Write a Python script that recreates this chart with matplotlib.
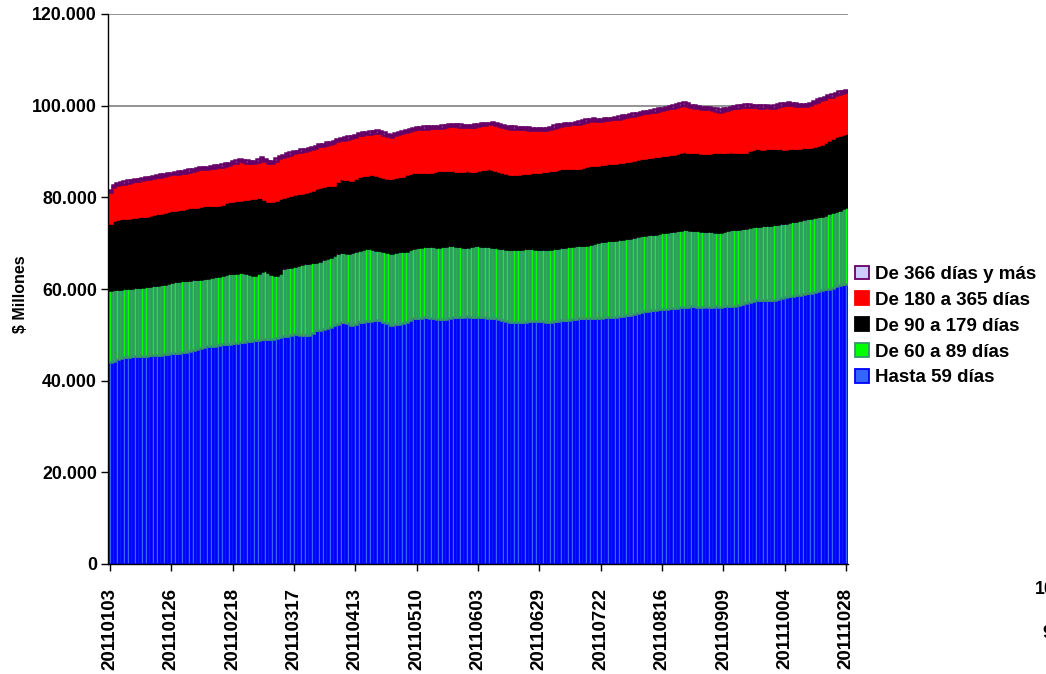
import matplotlib
matplotlib.use("Agg")
import matplotlib.pyplot as plt
import numpy as np
from matplotlib.patches import Patch
from matplotlib.ticker import FuncFormatter

plt.rcParams["font.family"] = ["Liberation Sans", "DejaVu Sans"]
plt.rcParams["font.weight"] = "bold"

# Tick labels (one every 17 days)
tick_labels = [
    "20110103", "20110126", "20110218", "20110317", "20110413", "20110510",
    "20110603", "20110629", "20110722", "20110816", "20110909", "20111004",
    "20111028",
]
tick_step = 17

# Stack levels, in thousands of $ millions
# (top of each band, one value per day)
top_hasta59 = [
    44.1, 44.4, 44.7, 45.0, 45.2, 45.2, 45.3, 45.3, 45.4, 45.3,
    45.4, 45.5, 45.6, 45.6, 45.7, 45.8, 45.8, 46.0, 46.1, 46.1,
    46.2, 46.3, 46.5, 46.8, 47.0, 47.2, 47.4, 47.5, 47.5, 47.6,
    47.7, 47.9, 48.0, 48.1, 48.2, 48.3, 48.4, 48.5, 48.6, 48.7,
    48.8, 48.9, 49.0, 49.1, 49.1, 49.2, 49.4, 49.6, 49.7, 49.8,
    50.0, 50.2, 50.1, 50.0, 49.9, 50.0, 50.5, 51.0, 51.1, 51.3,
    51.4, 51.8, 52.1, 52.4, 52.7, 52.9, 52.5, 52.2, 52.4, 52.7,
    52.9, 53.0, 53.1, 53.2, 53.2, 53.2, 52.9, 52.5, 52.2, 52.3,
    52.4, 52.5, 52.9, 53.3, 53.6, 53.7, 53.7, 53.8, 53.8, 53.7,
    53.6, 53.5, 53.4, 53.5, 53.6, 53.8, 53.9, 54.0, 54.0, 54.1,
    54.0, 54.0, 53.9, 53.9, 53.8, 53.7, 53.7, 53.6, 53.4, 53.2,
    53.0, 52.9, 52.8, 52.7, 52.8, 52.9, 53.0, 53.1, 53.1, 53.0,
    53.0, 52.9, 52.9, 53.0, 53.1, 53.2, 53.2, 53.3, 53.4, 53.5,
    53.6, 53.6, 53.6, 53.6, 53.6, 53.6, 53.7, 53.8, 53.9, 54.0,
    54.0, 54.1, 54.2, 54.3, 54.3, 54.5, 54.7, 54.9, 55.1, 55.3,
    55.4, 55.5, 55.6, 55.6, 55.7, 55.8, 55.8, 55.9, 56.0, 56.1,
    56.1, 56.2, 56.2, 56.1, 56.1, 56.2, 56.1, 56.1, 56.2, 56.1,
    56.2, 56.3, 56.4, 56.4, 56.5, 56.8, 57.0, 57.2, 57.4, 57.6,
    57.6, 57.6, 57.7, 57.6, 57.6, 57.8, 58.0, 58.2, 58.5, 58.5,
    58.6, 58.8, 59.0, 59.1, 59.2, 59.4, 59.6, 59.8, 59.9, 60.1,
    60.3, 60.6, 60.9, 61.0, 61.2,
]

top_60_89 = [
    59.8, 59.9, 60.0, 60.1, 60.2, 60.2, 60.3, 60.4, 60.5, 60.5,
    60.6, 60.7, 60.8, 60.9, 61.0, 61.2, 61.4, 61.6, 61.7, 61.8,
    61.9, 61.9, 62.0, 62.1, 62.1, 62.2, 62.3, 62.5, 62.6, 62.8,
    62.9, 63.1, 63.3, 63.4, 63.5, 63.6, 63.7, 63.8, 63.6, 63.2,
    63.1, 63.5, 63.9, 64.2, 63.8, 63.3, 63.1, 63.6, 64.5, 64.7,
    64.9, 65.0, 65.2, 65.4, 65.6, 65.7, 65.9, 66.0, 66.2, 66.5,
    66.7, 67.0, 67.4, 67.8, 68.1, 68.0, 67.8, 68.0, 68.3, 68.6,
    68.8, 68.9, 68.9, 68.7, 68.6, 68.5, 68.3, 68.1, 67.9, 68.0,
    68.2, 68.3, 68.4, 68.7, 68.9, 69.1, 69.2, 69.3, 69.4, 69.3,
    69.3, 69.2, 69.3, 69.4, 69.5, 69.5, 69.4, 69.3, 69.2, 69.2,
    69.4, 69.6, 69.5, 69.4, 69.3, 69.3, 69.2, 69.2, 69.0, 68.9,
    68.8, 68.7, 68.7, 68.7, 68.8, 68.9, 68.9, 68.9, 68.8, 68.7,
    68.7, 68.7, 68.8, 68.9, 69.0, 69.1, 69.2, 69.3, 69.4, 69.5,
    69.5, 69.6, 69.7, 69.8, 70.0, 70.3, 70.4, 70.5, 70.6, 70.7,
    70.8, 70.9, 71.0, 71.1, 71.2, 71.4, 71.5, 71.7, 71.8, 71.9,
    72.0, 72.1, 72.2, 72.4, 72.5, 72.6, 72.7, 72.8, 72.9, 73.0,
    73.0, 72.9, 72.8, 72.8, 72.7, 72.7, 72.7, 72.6, 72.5, 72.5,
    72.6, 72.8, 73.0, 73.1, 73.2, 73.3, 73.4, 73.6, 73.7, 73.8,
    73.8, 73.9, 74.0, 74.0, 74.1, 74.2, 74.3, 74.5, 74.6, 74.8,
    74.9, 75.0, 75.2, 75.4, 75.6, 75.7, 75.9, 76.0, 76.2, 76.5,
    76.7, 77.0, 77.3, 77.6, 78.0,
]

top_90_179 = [
    74.4, 75.1, 75.3, 75.4, 75.6, 75.6, 75.7, 75.8, 75.9, 75.9,
    76.0, 76.2, 76.3, 76.5, 76.6, 76.8, 77.0, 77.2, 77.3, 77.4,
    77.5, 77.7, 77.8, 77.9, 78.0, 78.2, 78.3, 78.3, 78.3, 78.3,
    78.3, 78.6, 78.9, 79.1, 79.2, 79.4, 79.5, 79.6, 79.7, 79.8,
    79.9, 80.0, 80.0, 79.6, 79.3, 79.1, 79.5, 79.9, 80.1, 80.3,
    80.5, 80.7, 80.9, 81.0, 81.2, 81.4, 81.7, 82.0, 82.3, 82.5,
    82.6, 82.7, 82.7, 83.5, 84.2, 84.0, 83.9, 83.8, 84.2, 84.7,
    84.8, 84.9, 85.0, 85.0, 84.9, 84.7, 84.5, 84.2, 84.3, 84.4,
    84.6, 84.7, 85.0, 85.3, 85.6, 85.6, 85.6, 85.5, 85.6, 85.6,
    85.8, 85.9, 86.0, 86.0, 85.9, 85.9, 85.8, 85.8, 85.8, 85.9,
    85.8, 85.8, 86.0, 86.1, 86.2, 86.3, 86.2, 86.0, 85.8, 85.6,
    85.4, 85.2, 85.2, 85.2, 85.3, 85.3, 85.4, 85.5, 85.6, 85.6,
    85.7, 85.8, 85.9, 86.0, 86.2, 86.3, 86.3, 86.3, 86.3, 86.3,
    86.5, 86.7, 86.9, 87.1, 87.1, 87.1, 87.2, 87.3, 87.4, 87.5,
    87.6, 87.7, 87.8, 87.9, 88.0, 88.2, 88.3, 88.5, 88.6, 88.7,
    88.9, 89.0, 89.1, 89.2, 89.3, 89.4, 89.5, 89.7, 90.0, 90.2,
    90.0, 89.9, 89.8, 89.8, 89.7, 89.7, 89.7, 89.8, 89.9, 90.0,
    90.0, 90.0, 90.1, 90.0, 90.0, 90.0, 90.0, 90.3, 90.5, 90.7,
    90.7, 90.6, 90.7, 90.7, 90.8, 90.7, 90.7, 90.6, 90.7, 90.7,
    90.7, 90.8, 90.9, 90.9, 91.0, 91.2, 91.4, 91.7, 92.1, 92.6,
    93.0, 93.4, 93.6, 93.8, 94.0,
]

top_180_365 = [
    81.2, 82.2, 82.7, 82.9, 83.0, 83.2, 83.4, 83.5, 83.6, 83.8,
    83.9, 84.1, 84.2, 84.4, 84.5, 84.7, 84.8, 85.0, 85.1, 85.2,
    85.3, 85.4, 85.6, 85.8, 86.0, 86.1, 86.1, 86.2, 86.3, 86.5,
    86.6, 86.7, 86.9, 87.1, 87.4, 87.6, 87.9, 87.8, 87.6, 87.5,
    87.4, 87.8, 88.2, 87.9, 87.6, 87.4, 88.0, 88.5, 88.8, 89.1,
    89.3, 89.6, 89.8, 90.0, 90.1, 90.3, 90.5, 90.8, 91.1, 91.3,
    91.5, 91.6, 91.8, 92.2, 92.5, 92.6, 92.8, 92.9, 93.2, 93.6,
    93.7, 93.8, 93.9, 94.0, 94.1, 94.0, 93.7, 93.4, 93.2, 93.5,
    93.8, 94.0, 94.2, 94.5, 94.7, 94.9, 94.9, 95.0, 95.0, 95.1,
    95.1, 95.1, 95.2, 95.4, 95.5, 95.6, 95.5, 95.4, 95.3, 95.3,
    95.3, 95.4, 95.5, 95.7, 95.8, 95.9, 95.9, 95.7, 95.5, 95.3,
    95.1, 95.0, 95.0, 94.9, 94.9, 94.9, 94.8, 94.8, 94.7, 94.7,
    94.7, 94.7, 94.9, 95.2, 95.4, 95.6, 95.7, 95.8, 95.9, 95.9,
    96.1, 96.3, 96.5, 96.7, 96.9, 96.6, 96.7, 96.8, 96.9, 97.0,
    97.1, 97.2, 97.4, 97.5, 97.7, 97.8, 98.0, 98.2, 98.3, 98.4,
    98.6, 98.7, 98.9, 99.0, 99.2, 99.4, 99.6, 99.8, 100.0, 100.2,
    100.0, 99.8, 99.6, 99.4, 99.3, 99.2, 99.2, 99.0, 98.9, 98.7,
    98.9, 99.1, 99.3, 99.5, 99.6, 99.7, 99.8, 99.8, 99.7, 99.7,
    99.6, 99.6, 99.7, 99.6, 99.6, 99.8, 100.0, 100.1, 100.2, 100.1,
    100.0, 99.9, 99.9, 99.9, 100.2, 100.5, 100.9, 101.2, 101.5, 101.8,
    102.0, 102.3, 102.6, 102.8, 103.0,
]

# The top band is thin: its own value per day
v_366_mas = [
    0.5, 0.5, 0.4, 0.5, 0.5, 0.5, 0.4, 0.5, 0.5, 0.5,
    0.5, 0.4, 0.5, 0.5, 0.5, 0.5, 0.5, 0.4, 0.5, 0.5,
    0.5, 0.5, 0.5, 0.4, 0.5, 0.5, 0.5, 0.5, 0.5, 0.5,
    0.4, 0.5, 0.5, 0.5, 0.5, 0.5, 0.5, 0.4, 0.5, 0.5,
    0.5, 0.5, 0.5, 0.5, 0.4, 0.5, 0.5, 0.5, 0.5, 0.5,
    0.5, 0.5, 0.4, 0.5, 0.5, 0.5, 0.5, 0.5, 0.5, 0.4,
    0.5, 0.5, 0.5, 0.5, 0.5, 0.5, 0.5, 0.5, 0.4, 0.5,
    0.5, 0.5, 0.5, 0.5, 0.5, 0.4, 0.5, 0.5, 0.5, 0.5,
    0.5, 0.5, 0.5, 0.5, 0.4, 0.5, 0.5, 0.5, 0.5, 0.5,
    0.5, 0.5, 0.5, 0.4, 0.5, 0.5, 0.5, 0.5, 0.5, 0.5,
    0.5, 0.5, 0.5, 0.5, 0.5, 0.4, 0.5, 0.5, 0.5, 0.5,
    0.5, 0.5, 0.5, 0.5, 0.5, 0.5, 0.5, 0.4, 0.5, 0.5,
    0.5, 0.5, 0.5, 0.5, 0.5, 0.5, 0.5, 0.5, 0.4, 0.5,
    0.5, 0.5, 0.5, 0.5, 0.5, 0.5, 0.5, 0.5, 0.5, 0.4,
    0.5, 0.5, 0.5, 0.5, 0.5, 0.5, 0.5, 0.5, 0.5, 0.5,
    0.4, 0.5, 0.5, 0.5, 0.5, 0.5, 0.5, 0.5, 0.5, 0.5,
    0.5, 0.4, 0.5, 0.5, 0.5, 0.5, 0.5, 0.5, 0.5, 0.5,
    0.5, 0.5, 0.4, 0.5, 0.5, 0.5, 0.5, 0.5, 0.5, 0.5,
    0.5, 0.5, 0.5, 0.4, 0.5, 0.5, 0.5, 0.5, 0.5, 0.5,
    0.5, 0.5, 0.5, 0.5, 0.4, 0.5, 0.5, 0.5, 0.5, 0.5,
    0.5, 0.5, 0.5, 0.4, 0.5,
]

series_names = [
    "Hasta 59 días",
    "De 60 a 89 días",
    "De 90 a 179 días",
    "De 180 a 365 días",
    "De 366 días y más",
]
face_colors = ["#3366FF", "#00FF00", "#000000", "#FF0000", "#CCCCFF"]
edge_colors = ["#0000FF", "#339966", "#000000", "#FF0000", "#660066"]

# Band values from the stack levels (in $ millions)
levels = np.array([top_hasta59, top_60_89, top_90_179, top_180_365]) * 1000
bands = np.vstack([levels[0], np.diff(levels, axis=0)])
bands = np.vstack([bands, np.array(v_366_mas) * 1000])
n_days = bands.shape[1]
x = np.arange(n_days)

fig = plt.figure(figsize=(10.46, 6.74), dpi=100)
ax = fig.add_axes([108 / 1046, 110 / 674, 740 / 1046, 550 / 674])

ax.set_axisbelow(True)
ax.yaxis.grid(True, color="#808080", linewidth=1.2)

bottom = np.zeros(n_days)
for values, name, fc, ec in zip(bands, series_names, face_colors, edge_colors):
    ax.bar(x, values, width=1.0, bottom=bottom, color=fc, edgecolor=ec,
           linewidth=1.8, label=name)
    bottom += values

ax.set_xlim(-0.5, n_days - 0.5)
ax.set_ylim(0, 120000)
ax.set_yticks(np.arange(0, 120001, 20000))
ax.yaxis.set_major_formatter(
    FuncFormatter(lambda v, p: f"{v:,.0f}".replace(",", "."))
)

tick_pos = np.arange(0, n_days, tick_step)
ax.set_xticks(tick_pos)
ax.set_xticklabels(tick_labels, rotation=90, fontsize=13.5, fontweight="bold")
ax.tick_params(axis="x", length=5, width=1, pad=12)
ax.tick_params(axis="y", length=5, width=1, pad=3, labelsize=12.8)

for side in ["top", "right"]:
    ax.spines[side].set_visible(False)
ax.spines["left"].set_linewidth(1)
ax.spines["bottom"].set_linewidth(1)

ax.set_ylabel("$ Millones", fontsize=11.5, fontweight="bold")
ax.yaxis.set_label_coords(-0.108, 0.49)

handles = [
    Patch(facecolor=fc, edgecolor=ec, linewidth=1.3)
    for fc, ec in zip(face_colors, edge_colors)
]
fig.legend(
    handles[::-1], series_names[::-1],
    loc="center left", bbox_to_anchor=(855 / 1046, 1 - 326 / 674),
    frameon=False, fontsize=13.5, handlelength=0.75, handleheight=0.75,
    handletextpad=0.3, labelspacing=0.45, borderpad=0, borderaxespad=0,
)

# Labels of a neighbouring chart, cut off at the right edge as in the source
fig.text(1035 / 1046, 1 - 590 / 674, "100.000", fontsize=12.8,
         fontweight="bold", va="center", ha="left")
fig.text(1042 / 1046, 1 - 634 / 674, "90.000", fontsize=12.8,
         fontweight="bold", va="center", ha="left")

fig.savefig("out.png", dpi=100)
